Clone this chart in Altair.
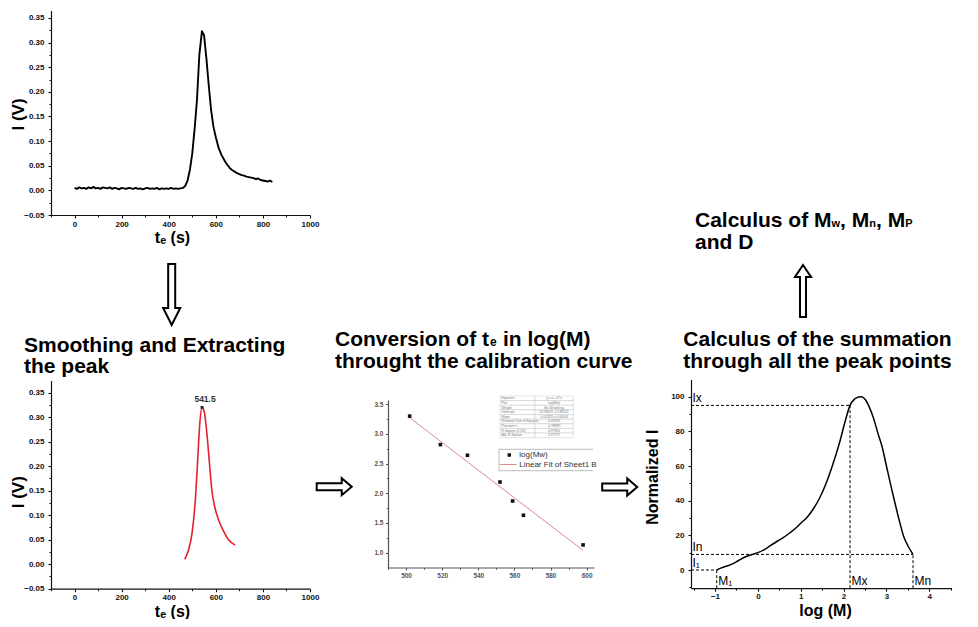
import altair as alt
import pandas as pd

FONT = "Liberation Sans"
W, H = 962, 611
INK = "#111111"
GREY = "#555555"

# ---------------- data ----------------
# Panel 1: raw signal
raw_t = [0, 10, 20, 30, 40, 50, 60, 70, 80, 90, 100, 110, 120, 130, 140, 150, 160, 170, 180, 190,
         200, 210, 220, 230, 240, 250, 260, 270, 280, 290, 300, 310, 320, 330, 340, 350, 360, 370,
         380, 390, 400, 410, 420, 430, 440, 450, 460, 470, 480, 490, 500, 510, 520, 530, 541, 550,
         560, 570, 580, 590, 600, 612, 625, 640, 650, 660, 670, 680, 690, 700, 710, 720, 730, 740,
         750, 760, 770, 780, 790, 800, 810, 820, 830, 840]
raw_i = [0.005, 0.003, 0.006, 0.004, 0.005, 0.003, 0.006, 0.004, 0.007, 0.004,
         0.005, 0.003, 0.006, 0.005, 0.004, 0.006, 0.003, 0.005, 0.004, 0.002,
         0.005, 0.004, 0.003, 0.005, 0.004, 0.003, 0.005, 0.003, 0.004, 0.002,
         0.004, 0.005, 0.003, 0.004, 0.003, 0.005, 0.002, 0.004, 0.003, 0.004,
         0.003, 0.005, 0.003, 0.004, 0.003, 0.004, 0.005,
         0.009, 0.020, 0.042, 0.075, 0.125, 0.184, 0.275, 0.323, 0.315, 0.268,
         0.213, 0.163, 0.129, 0.108, 0.086, 0.071, 0.058, 0.051, 0.045, 0.041,
         0.038, 0.035, 0.033, 0.031, 0.030, 0.028, 0.027, 0.026, 0.025, 0.023,
         0.024, 0.021, 0.020, 0.019, 0.018, 0.020, 0.017]

# Panel 2: smoothed, extracted peak
smooth_t = [468, 484, 499, 513, 523, 531, 541.5, 551, 562, 573, 583, 595, 612, 630, 654, 682]
smooth_i = [0.010, 0.029, 0.063, 0.131, 0.213, 0.281, 0.320, 0.311, 0.267, 0.206, 0.152,
            0.118, 0.090, 0.070, 0.050, 0.039]
peak_t = [541.5]
peak_i = [0.320]
peak_label = ["541.5"]

# Panel 3: calibration curve
cal_t = [502, 519, 534, 552, 559, 565, 598]
cal_logm = [3.30, 2.82, 2.64, 2.19, 1.87, 1.63, 1.13]
stat_names = ["Equation", "Plot", "Weight", "Intercept", "Slope", "Residual Sum of Squares",
              "Pearson's r", "R-Square (COD)", "Adj. R-Square"]
stat_values = ["y = a + b*x", "log(Mw)", "No Weighting", "14.96631 ± 0.88122",
               "-0.02329 ± 0.00161", "0.06763", "-0.98985", "0.97981", "0.97577"]
legend_labels = ["log(Mw)", "Linear Fit of Sheet1 B"]

# Panel 4: normalized distribution
dist_logm = [-0.96, -0.85, -0.7, -0.59, -0.45, -0.3, -0.15, 0.0, 0.15, 0.3, 0.45, 0.6,
             0.75, 0.9, 1.0, 1.15, 1.3, 1.45, 1.6, 1.75, 1.9, 2.05, 2.15, 2.25, 2.35, 2.42, 2.5,
             2.6, 2.7, 2.8, 2.9, 3.0, 3.1, 3.2, 3.3, 3.4, 3.5, 3.62]
dist_norm = [0, 1.2, 2.5, 3.5, 5.5, 7.5, 8.8, 10, 11.8, 14.2, 16.6, 18.8, 21.5, 24.5, 27,
             30.5, 35.5, 42, 50.5, 61, 73, 87, 95, 98.5, 99.8, 100, 98.5, 94, 87.5, 79, 71,
             60, 49, 38.5, 28.5, 19.5, 14, 9]
guide_i_label = ["I₁", "In", "Ix"]
guide_m_label = ["M₁", "Mn", "Mx"]
guide_logm = [-0.96, 3.62, 2.15]
guide_norm = [0, 9, 95]

DUMMY = pd.DataFrame({"k": [0]})


# ---------------- helpers ----------------
def ax(orient, offset, values, fmt, size, color, tick, pad, title=None, tx=0, ty=0, tsize=16):
    kw = dict(orient=orient, offset=offset, values=values, format=fmt,
              labelFont=FONT, labelFontSize=size, labelFontWeight="bold", labelColor=color,
              labelPadding=pad, labelFlush=False, labelOverlap=False,
              domainColor=color, domainWidth=1.2, tickColor=color, tickWidth=1.1,
              tickSize=tick, grid=False)
    if title is None:
        kw["title"] = None
    else:
        kw.update(title=title, titleX=tx, titleY=ty, titleFont=FONT, titleFontSize=tsize,
                  titleFontWeight="bold", titleColor="#000", titleAlign="center",
                  titleBaseline="middle", titleAngle=270 if orient == "left" else 0,
                  titlePadding=0)
    return alt.Axis(**kw)


def minor(orient, offset, values, color=INK, tick=2):
    return alt.Axis(orient=orient, offset=offset, values=values, labels=False, domain=False,
                    tickSize=tick, tickColor=color, tickWidth=1, grid=False, title=None)


def label(text, x, y, size, weight="bold", color="#000", align="left", baseline="alphabetic"):
    return alt.Chart(DUMMY).mark_text(
        font=FONT, fontSize=size, fontWeight=weight, color=color, align=align, baseline=baseline
    ).encode(x=alt.value(x), y=alt.value(y), text=alt.value(text))


def arrow(path, size, x, y):
    return alt.Chart(DUMMY).mark_point(
        shape=path, size=size, filled=True, fill="white", stroke="black", strokeWidth=2,
        opacity=1, strokeJoin="miter"
    ).encode(x=alt.value(x), y=alt.value(y))


def hrule(x1, x2, y, color, width=0.8):
    return alt.Chart(DUMMY).mark_rule(color=color, strokeWidth=width).encode(
        x=alt.value(x1), x2=alt.value(x2), y=alt.value(y))


# ---------------- panel 1 ----------------
df1 = pd.DataFrame({"t": raw_t, "i": raw_i})
x1 = alt.Scale(domain=[-100, 1000], range=[43, 302], nice=False, zero=False)
y1 = alt.Scale(domain=[-0.05, 0.365], range=[207, 2.6], nice=False, zero=False)
yvals_i = [-0.05, 0.0, 0.05, 0.10, 0.15, 0.20, 0.25, 0.30, 0.35]
yminor_i = [-0.025, 0.025, 0.075, 0.125, 0.175, 0.225, 0.275, 0.325]
xvals_t = [0, 200, 400, 600, 800, 1000]
xminor_t = [-100, 100, 300, 500, 700, 900]

p1_line = alt.Chart(df1).mark_line(color="black", strokeWidth=1.9, strokeJoin="round").encode(
    x=alt.X("t:Q", scale=x1, axis=ax("bottom", 207 - H, xvals_t, "d", 8, INK, 3, 2,
                                     "tₑ (s)", 164, 22)),
    y=alt.Y("i:Q", scale=y1, axis=ax("left", -43, yvals_i, ".2f", 8, INK, 3, 4,
                                     "I (V)", -32.5, 106, 17)))
p1_minor = alt.Chart(df1).mark_line(opacity=0).encode(
    x=alt.X("t:Q", scale=x1, axis=minor("bottom", 207 - H, xminor_t)),
    y=alt.Y("i:Q", scale=y1, axis=minor("left", -43, yminor_i)))
p1 = alt.layer(p1_line, p1_minor).resolve_axis(x="independent", y="independent")

# ---------------- panel 2 ----------------
df2 = pd.DataFrame({"t": smooth_t, "i": smooth_i})
dfpk = pd.DataFrame({"t": peak_t, "i": peak_i, "lab": peak_label})
x2 = alt.Scale(domain=[-100, 1000], range=[43, 302], nice=False, zero=False)
y2 = alt.Scale(domain=[-0.05, 0.375], range=[580.7, 372.45], nice=False, zero=False)

p2_line = alt.Chart(df2).mark_line(color="#e3212b", strokeWidth=1.6, interpolate="monotone").encode(
    x=alt.X("t:Q", scale=x2, axis=ax("bottom", 580.7 - H, xvals_t, "d", 8, INK, 3, 2,
                                     "tₑ (s)", 164, 23)),
    y=alt.Y("i:Q", scale=y2, axis=ax("left", -43, yvals_i, ".2f", 8, INK, 3, 4,
                                     "I (V)", -32.5, 483.7, 17)))
p2_minor = alt.Chart(df2).mark_line(opacity=0).encode(
    x=alt.X("t:Q", scale=x2, axis=minor("bottom", 580.7 - H, xminor_t)),
    y=alt.Y("i:Q", scale=y2, axis=minor("left", -43, yminor_i)))
p2_pk = alt.Chart(dfpk).mark_square(size=8, color="#222", opacity=1).encode(
    x=alt.X("t:Q", scale=x2, axis=None), y=alt.Y("i:Q", scale=y2, axis=None))
p2_txt = alt.Chart(dfpk).mark_text(font=FONT, fontSize=8.5, fontWeight="bold", color="#333",
                                   dy=-8, dx=3, baseline="middle").encode(
    x=alt.X("t:Q", scale=x2, axis=None), y=alt.Y("i:Q", scale=y2, axis=None), text="lab:N")
p2 = alt.layer(p2_line, p2_minor, p2_pk, p2_txt).resolve_axis(x="independent", y="independent")

# ---------------- panel 3 ----------------
df3 = pd.DataFrame({"t": cal_t, "logm": cal_logm})
x3 = alt.Scale(domain=[490, 604], range=[380, 585.9], nice=False, zero=False)
y3 = alt.Scale(domain=[0.75, 3.57], range=[559.5, 392.1], nice=False, zero=False)

p3_fit = alt.Chart(df3).transform_regression("t", "logm").mark_line(
    color="#d98c8c", strokeWidth=1).encode(
    x=alt.X("t:Q", scale=x3, axis=None), y=alt.Y("logm:Q", scale=y3, axis=None))
p3_pts = alt.Chart(df3).mark_square(size=13, color="#111", opacity=1).encode(
    x=alt.X("t:Q", scale=x3, axis=ax("bottom", 559.5 - H, [500, 520, 540, 560, 580, 600],
                                     "d", 6.5, GREY, 2.5, 2.5)),
    y=alt.Y("logm:Q", scale=y3, axis=ax("left", -380, [1.0, 1.5, 2.0, 2.5, 3.0, 3.5],
                                        ".1f", 6.5, GREY, 2.5, 2.5)))
p3_minor = alt.Chart(df3).mark_point(opacity=0).encode(
    x=alt.X("t:Q", scale=x3, axis=minor("bottom", 559.5 - H, [490, 510, 530, 550, 570, 590], GREY, 1.8)),
    y=alt.Y("logm:Q", scale=y3, axis=minor("left", -380, [1.25, 1.75, 2.25, 2.75, 3.25], GREY, 1.8)))
p3 = alt.layer(p3_fit, p3_pts, p3_minor).resolve_axis(x="independent", y="independent")

# stats table
tab_df = pd.DataFrame({"row": stat_names, "value": stat_values})
ytab = alt.Scale(domain=stat_names, range=[388, 429.7], paddingInner=0, paddingOuter=0)
tab_l = alt.Chart(tab_df).mark_rect(fill="white", stroke="#c4c4c4", strokeWidth=0.5).encode(
    x=alt.value(492), x2=alt.value(527), y=alt.Y("row:N", scale=ytab, axis=None))
tab_r = alt.Chart(tab_df).mark_rect(fill="white", stroke="#c4c4c4", strokeWidth=0.5).encode(
    x=alt.value(527), x2=alt.value(565.3), y=alt.Y("row:N", scale=ytab, axis=None))
tab_tl = alt.Chart(tab_df).mark_text(font=FONT, fontSize=3.3, color="#777", align="left",
                                     baseline="middle").encode(
    x=alt.value(493.5), y=alt.Y("row:N", scale=ytab, axis=None), text="row:N")
tab_tr = alt.Chart(tab_df).mark_text(font=FONT, fontSize=3.3, color="#777", align="center",
                                     baseline="middle").encode(
    x=alt.value(546), y=alt.Y("row:N", scale=ytab, axis=None), text="value:N")
table = alt.layer(tab_l, tab_r, tab_tl, tab_tr)

# legend of panel 3
leg = [
    hrule(491, 585, 441.3, "#aaa"),
    hrule(491, 585, 462.7, "#aaa"),
    alt.Chart(DUMMY).mark_rule(color="#aaa", strokeWidth=0.8).encode(
        x=alt.value(491), y=alt.value(441.3), y2=alt.value(462.7)),
    alt.Chart(DUMMY).mark_square(size=12, color="#111", opacity=1).encode(
        x=alt.value(501.3), y=alt.value(447)),
    hrule(492, 508.7, 456.5, "#d98c8c", 1),
    label(legend_labels[0], 511.3, 447, 8, "normal", "#333", baseline="middle"),
    label(legend_labels[1], 511.3, 456.5, 8, "normal", "#333", baseline="middle"),
]

# ---------------- panel 4 ----------------
X4MIN, Y4MIN = -1.56, -10.5
df4 = pd.DataFrame({"logm": dist_logm, "norm": dist_norm})
g4 = pd.DataFrame({"logm": guide_logm, "norm": guide_norm, "il": guide_i_label,
                   "ml": guide_m_label, "x0": [X4MIN] * 3, "y0": [Y4MIN] * 3})
x4 = alt.Scale(domain=[X4MIN, 4.52], range=[683, 943.6], nice=False, zero=False)
y4 = alt.Scale(domain=[Y4MIN, 110], range=[580.2, 371.4], nice=False, zero=False)

p4_line = alt.Chart(df4).mark_line(color="black", strokeWidth=1.5, interpolate="monotone").encode(
    x=alt.X("logm:Q", scale=x4, axis=ax("bottom", 580.2 - H, [-1, 0, 1, 2, 3, 4], "d", 8, INK,
                                        3, 1.5, "log (M)", 817, 22)),
    y=alt.Y("norm:Q", scale=y4, axis=ax("left", -683, [0, 20, 40, 60, 80, 100], "d", 8, INK,
                                        3, 4, "Normalized I", -38.5, 468.7, 16)))
p4_minor = alt.Chart(df4).mark_line(opacity=0).encode(
    x=alt.X("logm:Q", scale=x4, axis=minor("bottom", 580.2 - H, [-1.5, -0.5, 0.5, 1.5, 2.5, 3.5, 4.5])),
    y=alt.Y("norm:Q", scale=y4, axis=minor("left", -683, [-10, 10, 30, 50, 70, 90])))
p4_h = alt.Chart(g4).mark_rule(color="black", strokeWidth=1, strokeDash=[3, 2]).encode(
    x=alt.X("x0:Q", scale=x4, axis=None), x2="logm:Q",
    y=alt.Y("norm:Q", scale=y4, axis=None))
p4_v = alt.Chart(g4).mark_rule(color="black", strokeWidth=1, strokeDash=[3, 2]).encode(
    x=alt.X("logm:Q", scale=x4, axis=None),
    y=alt.Y("y0:Q", scale=y4, axis=None), y2="norm:Q")
p4_il = alt.Chart(g4).mark_text(font=FONT, fontSize=12, color="#000", align="left",
                                baseline="bottom", dx=1.5, dy=-0.5).encode(
    x=alt.X("x0:Q", scale=x4, axis=None), y=alt.Y("norm:Q", scale=y4, axis=None), text="il:N")
p4_ml = alt.Chart(g4).mark_text(font=FONT, fontSize=12, color="#000", align="left",
                                baseline="bottom", dx=1.5, dy=-0.5).encode(
    x=alt.X("logm:Q", scale=x4, axis=None), y=alt.Y("y0:Q", scale=y4, axis=None), text="ml:N")
p4 = alt.layer(p4_line, p4_minor, p4_h, p4_v, p4_il, p4_ml).resolve_axis(
    x="independent", y="independent")

# ---------------- titles & arrows ----------------
TS = 21
titles = [
    label("Smoothing and Extracting", 16, 343.7, TS),
    label("the peak", 16, 364.7, TS),
    label("Conversion of t", 327, 338, TS),
    label("e", 482, 338, 12),
    label("in log(M)", 495, 338, TS),
    label("throught the calibration curve", 327, 359.7, TS),
    label("Calculus of the summation", 675.3, 337.7, TS),
    label("through all the peak points", 675.3, 360.3, TS),
    label("Calculus of M", 687, 218.7, TS),
    label("w", 823.5, 218.7, 11),
    label(", M", 832.1, 218.7, TS),
    label("n", 861.3, 218.7, 11),
    label(", M", 868.0, 218.7, TS),
    label("P", 897.2, 218.7, 11),
    label("and D", 687, 241.3, TS),
]

DOWN = "M -0.115 -1 L 0.115 -1 L 0.115 0.443 L 0.28 0.443 L 0 1 L -0.28 0.443 L -0.115 0.443 Z"
RIGHT = "M -1 -0.2 L 0.43 -0.2 L 0.43 -0.486 L 1 0 L 0.43 0.486 L 0.43 0.2 L -1 0.2 Z"
UP = "M 0 -1 L 0.31 -0.54 L 0.115 -0.54 L 0.115 1 L -0.115 1 L -0.115 -0.54 L -0.31 -0.54 Z"
arrows = [
    arrow(DOWN, 3721, 163.7, 286.5),
    arrow(RIGHT, 1225, 326.2, 478.7),
    arrow(RIGHT, 1225, 611.7, 479),
    arrow(UP, 2704, 795, 283),
]

chart = alt.layer(p1, p2, p3, p4, table, *leg, *titles, *arrows).resolve_scale(
    x="independent", y="independent").resolve_axis(
    x="independent", y="independent").properties(
    width=W, height=H, autosize=alt.AutoSizeParams(type="none"), padding=0,
    background="white").configure(font=FONT, view=alt.ViewConfig(strokeWidth=0))

chart.save("out.html", embed_options={"renderer": "svg", "actions": False})
